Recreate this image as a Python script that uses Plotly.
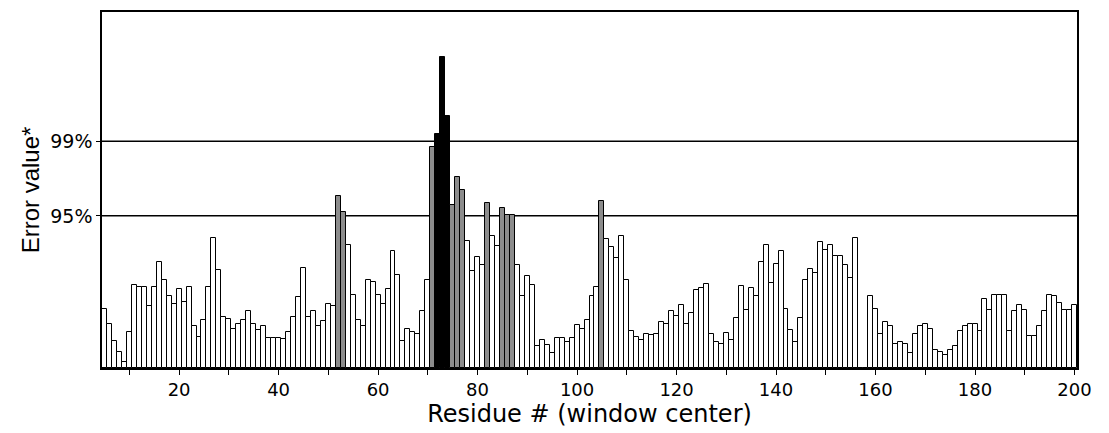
import plotly.graph_objects as go

# Residue numbers (window centers)
residues = list(range(5, 201))

# Error values (arbitrary units; 95% = 153, 99% = 228)
error_values = [
    59, 44, 27, 16, 6, 36, 83, 81, 81, 62,          # 5-14
    81, 107, 88, 72, 64, 79, 66, 81, 42, 31,        # 15-24
    48, 81, 131, 99, 51, 49, 39, 44, 48, 57,        # 25-34
    44, 38, 42, 30, 30, 30, 29, 36, 51, 71,         # 35-44
    101, 51, 57, 42, 47, 64, 62, 173, 157, 124,     # 45-54
    73, 48, 42, 88, 86, 73, 64, 79, 118, 94,        # 55-64
    27, 39, 36, 34, 57, 88, 222, 235, 313, 253,     # 65-74
    164, 192, 179, 128, 98, 112, 104, 166, 133, 123,  # 75-84
    161, 154, 154, 104, 72, 93, 83, 22, 28, 23,     # 85-94
    15, 30, 30, 26, 30, 43, 39, 48, 72, 81,         # 95-104
    168, 130, 122, 111, 133, 88, 37, 31, 28, 34,    # 105-114
    33, 34, 46, 44, 57, 52, 63, 44, 55, 78,         # 115-124
    80, 84, 34, 26, 24, 35, 28, 50, 82, 58,         # 125-134
    80, 72, 107, 124, 85, 105, 118, 59, 38, 26,     # 135-144
    50, 89, 100, 96, 127, 119, 124, 113, 113, 104,  # 145-154
    91, 131, 0, 0, 72, 59, 34, 46, 42, 24,          # 155-164
    26, 24, 15, 34, 42, 44, 39, 18, 16, 13,         # 165-174
    18, 22, 37, 42, 44, 44, 37, 69, 58, 73,         # 175-184
    73, 73, 37, 57, 63, 58, 32, 32, 42, 57,         # 185-194
    73, 72, 65, 58, 58, 63,                         # 195-200
]

# Significance thresholds and their labels
threshold_values = [153, 228]
threshold_labels = ["95%", "99%"]

x_tick_values = list(range(20, 201, 20))
x_tick_labels = [str(v) for v in x_tick_values]

def bar_color(v):
    if v >= threshold_values[1]:
        return "black"
    if v >= threshold_values[0]:
        return "#8c8c8c"
    return "white"

colors = [bar_color(v) for v in error_values]

fig = go.Figure()
fig.add_trace(go.Bar(
    x=residues,
    y=error_values,
    marker=dict(color=colors, line=dict(color="black", width=1)),
    showlegend=False,
    hoverinfo="x+y",
))

for tv in threshold_values:
    fig.add_hline(y=tv, line_color="black", line_width=1.5, layer="below")

wide_font = "DejaVu Sans, Verdana, sans-serif"
arial = "Liberation Sans, Arial, sans-serif"

fig.update_layout(
    width=1101,
    height=425,
    margin=dict(l=94, r=32, t=2, b=65),
    plot_bgcolor="white",
    paper_bgcolor="white",
    bargap=0,
    font=dict(family=wide_font, color="black"),
    xaxis=dict(
        range=[4.5, 200.5],
        tickmode="array",
        tickvals=x_tick_values,
        ticktext=x_tick_labels,
        ticks="outside",
        ticklen=5,
        tickwidth=1,
        tickcolor="black",
        minor=dict(tickmode="array", tickvals=list(range(10, 201, 10)),
                   ticks="outside", ticklen=5, tickwidth=1, tickcolor="black"),
        tickfont=dict(size=18, family=wide_font),
        showline=True,
        linecolor="black",
        linewidth=1.5,
        mirror=True,
        showgrid=False,
        zeroline=False,
        title=dict(text="Residue # (window center)", font=dict(size=24, family=wide_font), standoff=0),
    ),
    yaxis=dict(
        range=[0, 358],
        tickmode="array",
        tickvals=threshold_values,
        ticktext=threshold_labels,
        ticks="outside",
        ticklen=4,
        tickwidth=1,
        tickcolor="black",
        tickfont=dict(size=19, family=wide_font),
        showline=True,
        linecolor="black",
        linewidth=1.5,
        mirror=True,
        showgrid=False,
        zeroline=False,
        title=dict(text="Error value*", font=dict(size=24, family=arial), standoff=4),
    ),
)

fig.write_html("out.html")
